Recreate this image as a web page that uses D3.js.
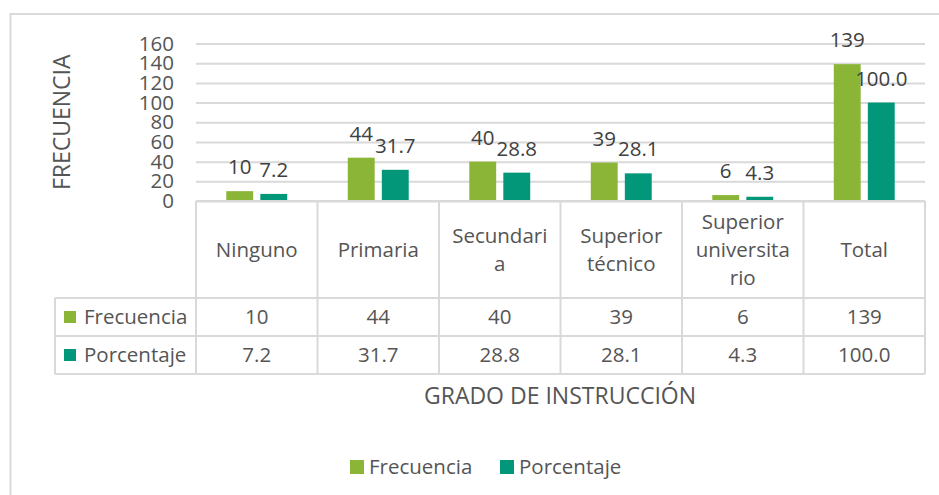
<!DOCTYPE html>
<html>
<head>
<meta charset="utf-8">
<script src="https://cdn.jsdelivr.net/npm/d3@7"></script>
<style>
  body { margin: 0; background: #fff; }
  svg { display: block; font-family: "Open Sans", sans-serif; }
</style>
</head>
<body>
<div id="chart"></div>
<script>
const categories = ['Ninguno', 'Primaria', 'Secundaria', 'Superior técnico', 'Superior universitario', 'Total'];
// how Excel wrapped the header cells
const categoryLines = [['Ninguno'], ['Primaria'], ['Secundari', 'a'], ['Superior', 'técnico'], ['Superior', 'universita', 'rio'], ['Total']];
const frecuencia = [10, 44, 40, 39, 6, 139];
const porcentaje = [7.2, 31.7, 28.8, 28.1, 4.3, 100.0];
const yTicks = [0, 20, 40, 60, 80, 100, 120, 140, 160];

const series = [
  {name: 'Frecuencia', values: frecuencia, color: '#8bb536', fmt: d3.format('d')},
  {name: 'Porcentaje', values: porcentaje, color: '#03977a', fmt: d3.format('.1f')}
];

const W = 939, H = 495;
const plot = {left: 196, right: 925, top: 43.5, bottom: 201};
const tableLeft = 55;
const rowLines = [201, 298, 336, 374];
const GRID = '#d9d9d9', TEXT = '#555555', LABEL = '#404040';
const FS = 20.5;

const svg = d3.select('#chart').append('svg')
  .attr('width', W)
  .attr('height', H);

// chart frame (runs off the right and bottom)
svg.append('rect')
  .attr('x', 10.5).attr('y', 14)
  .attr('width', W + 10).attr('height', H + 10)
  .attr('fill', 'none')
  .attr('stroke', GRID)
  .attr('stroke-width', 2);

const x = d3.scaleBand()
  .domain(categories)
  .range([plot.left, plot.right]);

const xInner = d3.scaleBand()
  .domain(series.map((s) => s.name))
  .range([0, x.bandwidth()])
  .paddingInner(0.21)
  .paddingOuter(0.89);

const y = d3.scaleLinear()
  .domain([0, 160])
  .range([plot.bottom, plot.top]);

// y grid
const yGrid = d3.axisLeft(y)
  .tickValues(yTicks)
  .tickSize(-(plot.right - plot.left))
  .tickFormat('');

svg.append('g')
  .attr('transform', `translate(${plot.left},0)`)
  .call(yGrid)
  .call((g) => g.select('.domain').remove())
  .call((g) => g.selectAll('line').attr('stroke', GRID).attr('stroke-width', 2));

// y tick labels
const yAxis = d3.axisLeft(y)
  .tickValues(yTicks)
  .tickSize(0)
  .tickPadding(0);

svg.append('g')
  .attr('transform', 'translate(174,0)')
  .call(yAxis)
  .call((g) => g.select('.domain').remove())
  .call((g) => g.selectAll('text')
    .attr('fill', TEXT)
    .attr('font-size', FS)
    .attr('font-family', '"Open Sans", sans-serif'));

// y axis title
svg.append('text')
  .attr('transform', `translate(70,${(plot.top + plot.bottom) / 2}) rotate(-90)`)
  .attr('text-anchor', 'middle')
  .attr('fill', TEXT)
  .attr('font-size', 23)
  .text('FRECUENCIA');

// bars
const groups = svg.append('g')
  .selectAll('g')
  .data(categories)
  .join('g')
  .attr('transform', (d) => `translate(${x(d)},0)`);

series.forEach((s) => {
  groups.append('rect')
    .attr('x', xInner(s.name))
    .attr('width', xInner.bandwidth())
    .attr('y', (d, i) => y(s.values[i]))
    .attr('height', (d, i) => y(0) - y(s.values[i]))
    .attr('fill', s.color);

  groups.append('text')
    .attr('x', xInner(s.name) + xInner.bandwidth() / 2)
    .attr('y', (d, i) => y(s.values[i]) - 17)
    .attr('text-anchor', 'middle')
    .attr('fill', LABEL)
    .attr('font-size', FS)
    .text((d, i) => s.fmt(s.values[i]));
});

// data table
const table = svg.append('g')
  .attr('stroke', GRID)
  .attr('stroke-width', 2)
  .attr('fill', 'none');

rowLines.forEach((ry, i) => {
  table.append('line')
    .attr('x1', i === 0 ? plot.left : tableLeft)
    .attr('x2', plot.right)
    .attr('y1', ry).attr('y2', ry);
});

const colEdges = categories.map((c) => x(c)).concat([plot.right]);
colEdges.forEach((cx) => {
  table.append('line')
    .attr('x1', cx).attr('x2', cx)
    .attr('y1', rowLines[0]).attr('y2', rowLines[3]);
});
table.append('line')
  .attr('x1', tableLeft).attr('x2', tableLeft)
  .attr('y1', rowLines[1]).attr('y2', rowLines[3]);

// header cells
const headerMid = (rowLines[0] + rowLines[1]) / 2;
const lineH = 28;
categories.forEach((c, i) => {
  const lines = categoryLines[i];
  const t = svg.append('text')
    .attr('text-anchor', 'middle')
    .attr('fill', TEXT)
    .attr('font-size', FS);
  lines.forEach((ln, j) => {
    t.append('tspan')
      .attr('x', x(c) + x.bandwidth() / 2)
      .attr('y', headerMid + (j - (lines.length - 1) / 2) * lineH + 7)
      .text(ln);
  });
});

// value rows
series.forEach((s, r) => {
  const cy = (rowLines[r + 1] + rowLines[r + 2]) / 2;

  svg.append('rect')
    .attr('x', 64).attr('y', cy - 6)
    .attr('width', 12).attr('height', 12)
    .attr('fill', s.color);

  svg.append('text')
    .attr('x', 84).attr('y', cy + 7)
    .attr('fill', TEXT)
    .attr('font-size', FS)
    .text(s.name);

  svg.append('g')
    .selectAll('text')
    .data(categories)
    .join('text')
    .attr('x', (d) => x(d) + x.bandwidth() / 2)
    .attr('y', cy + 7)
    .attr('text-anchor', 'middle')
    .attr('fill', TEXT)
    .attr('font-size', FS)
    .text((d, i) => s.fmt(s.values[i]));
});

// x axis title
svg.append('text')
  .attr('x', 560).attr('y', 404)
  .attr('text-anchor', 'middle')
  .attr('fill', TEXT)
  .attr('font-size', 23)
  .text('GRADO DE INSTRUCCIÓN');

// legend
const legendItems = [{x: 350}, {x: 500}];
series.forEach((s, i) => {
  const lx = legendItems[i].x;
  svg.append('rect')
    .attr('x', lx).attr('y', 460)
    .attr('width', 14).attr('height', 14)
    .attr('fill', s.color);
  svg.append('text')
    .attr('x', lx + 19).attr('y', 474)
    .attr('fill', TEXT)
    .attr('font-size', FS)
    .text(s.name);
});
</script>
</body>
</html>
